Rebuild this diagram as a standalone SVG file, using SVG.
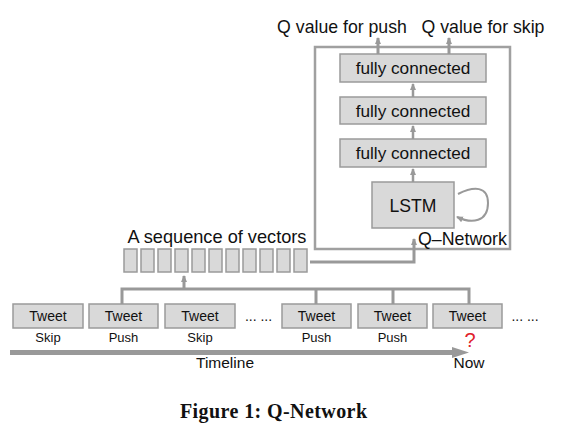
<svg xmlns="http://www.w3.org/2000/svg" width="566" height="433" viewBox="0 0 566 433">
<defs>
<marker id="ah" markerUnits="userSpaceOnUse" markerWidth="8" markerHeight="8" refX="6" refY="4" orient="auto">
<path d="M0,1 L7,4 L0,7 Z" fill="#999"/>
</marker>
<style>
.box{fill:#d9d9d9;stroke:#9a9a9a;stroke-width:1.5}
.t{font-family:"Liberation Sans",Arial,sans-serif;fill:#111}
.c{fill:none;stroke:#999;stroke-width:3}
.thin{fill:none;stroke:#999;stroke-width:2.5}
</style>
</defs>
<rect width="566" height="433" fill="#fff"/>

<g id="q-network">
<rect x="315" y="47" width="195" height="202" fill="none" stroke="#a0a0a0" stroke-width="2.5"/>
<text class="t" x="418" y="245" font-size="17.8">Q–Network</text>
</g>
<g id="fc1">
<rect class="box" x="340" y="54" width="146" height="28"/>
<text class="t" x="413" y="74" font-size="17.2" text-anchor="middle">fully connected</text>
</g>
<g id="fc2">
<rect class="box" x="340" y="97" width="146" height="27"/>
<text class="t" x="413" y="117" font-size="17.2" text-anchor="middle">fully connected</text>
</g>
<g id="fc3">
<rect class="box" x="340" y="139" width="146" height="28"/>
<text class="t" x="413" y="159" font-size="17.2" text-anchor="middle">fully connected</text>
</g>
<g id="lstm">
<rect class="box" x="372" y="182" width="82" height="46"/>
<text class="t" x="413" y="212" font-size="17.6" text-anchor="middle">LSTM</text>
</g>
<g id="q-push">
<text class="t" x="342" y="33" font-size="17.7" text-anchor="middle">Q value for push</text>
</g>
<g id="q-skip">
<text class="t" x="483" y="33" font-size="17.7" text-anchor="middle">Q value for skip</text>
</g>
<g id="sequence">
<text class="t" x="217" y="243" font-size="18.2" text-anchor="middle">A sequence of vectors</text>
<rect class="box" x="124" y="249" width="13" height="23"/>
<rect class="box" x="141" y="249" width="13" height="23"/>
<rect class="box" x="158" y="249" width="13" height="23"/>
<rect class="box" x="175" y="249" width="13" height="23"/>
<rect class="box" x="192" y="249" width="13" height="23"/>
<rect class="box" x="209" y="249" width="13" height="23"/>
<rect class="box" x="226" y="249" width="13" height="23"/>
<rect class="box" x="243" y="249" width="13" height="23"/>
<rect class="box" x="260" y="249" width="13" height="23"/>
<rect class="box" x="277" y="249" width="13" height="23"/>
<rect class="box" x="294" y="249" width="13" height="23"/>
</g>
<g id="tweet1">
<rect class="box" x="13" y="304" width="70" height="24"/>
<text class="t" x="48" y="321" font-size="14" text-anchor="middle">Tweet</text>
<text class="t" x="48" y="342" font-size="13" text-anchor="middle">Skip</text>
</g>
<g id="tweet2">
<rect class="box" x="89" y="304" width="69" height="24"/>
<text class="t" x="123.5" y="321" font-size="14" text-anchor="middle">Tweet</text>
<text class="t" x="123.5" y="342" font-size="13" text-anchor="middle">Push</text>
</g>
<g id="tweet3">
<rect class="box" x="165" y="304" width="70" height="24"/>
<text class="t" x="200" y="321" font-size="14" text-anchor="middle">Tweet</text>
<text class="t" x="200" y="342" font-size="13" text-anchor="middle">Skip</text>
</g>
<g id="dots1">
<text class="t" x="258.5" y="321" font-size="14" text-anchor="middle">... ...</text>
</g>
<g id="tweet4">
<rect class="box" x="282" y="304" width="69" height="24"/>
<text class="t" x="316.5" y="321" font-size="14" text-anchor="middle">Tweet</text>
<text class="t" x="316.5" y="342" font-size="13" text-anchor="middle">Push</text>
</g>
<g id="tweet5">
<rect class="box" x="358" y="304" width="69" height="24"/>
<text class="t" x="392.5" y="321" font-size="14" text-anchor="middle">Tweet</text>
<text class="t" x="392.5" y="342" font-size="13" text-anchor="middle">Push</text>
</g>
<g id="tweet6">
<rect class="box" x="433" y="304" width="69" height="24"/>
<text class="t" x="467.5" y="321" font-size="14" text-anchor="middle">Tweet</text>
<text x="470" y="347" font-size="20" text-anchor="middle" font-family="Liberation Sans,Arial,sans-serif" fill="#e0202a">?</text>
</g>
<g id="dots2">
<text class="t" x="525" y="321" font-size="14" text-anchor="middle">... ...</text>
</g>
<g id="timeline">
<line x1="10" y1="352.5" x2="458" y2="352.5" stroke="#999" stroke-width="5"/>
<path d="M452,347 L469,352.5 L452,358 Z" fill="#999"/>
<text class="t" x="225" y="368" font-size="15.5" text-anchor="middle">Timeline</text>
<text class="t" x="469" y="368" font-size="15.5" text-anchor="middle">Now</text>
</g>

<g id="connectors">
<path class="c" d="M122,304 V289 H469 V304 M316,289 V304 M393,289 V304"/>
<path class="c" d="M184,289 V276" marker-end="url(#ah)"/>
<path class="c" d="M310,262 H414 V239" marker-end="url(#ah)"/>
<path class="thin" d="M413,182 V169" marker-end="url(#ah)"/>
<path class="thin" d="M413,139 V126" marker-end="url(#ah)"/>
<path class="thin" d="M413,97 V84" marker-end="url(#ah)"/>
<path class="c" d="M378,54 V38" marker-end="url(#ah)"/>
<path class="c" d="M449,54 V38" marker-end="url(#ah)"/>
<path fill="none" stroke="#999" stroke-width="2" d="M458,194 C474,186 488,186 488,203 C488,222 472,224 457,217" marker-end="url(#ah)"/>
</g>

<text x="273.5" y="418" font-size="20" font-weight="bold" text-anchor="middle" textLength="187" font-family="Liberation Serif,Times New Roman,serif" fill="#111">Figure 1: Q-Network</text>
</svg>
